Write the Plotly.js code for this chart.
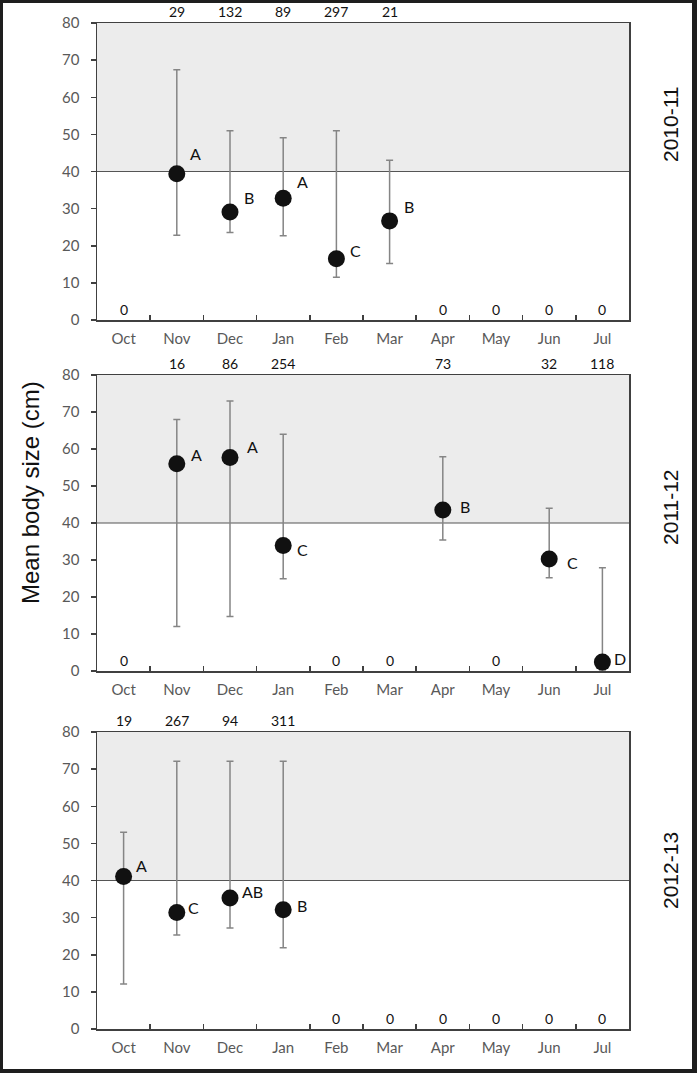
<!DOCTYPE html>
<html>
<head>
<meta charset="utf-8">
<script src="https://cdn.plot.ly/plotly-3.0.1.min.js"></script>
<style>
  html, body { margin: 0; padding: 0; background: #fff; }
  #wrap { position: relative; width: 697px; height: 1073px; }
  #chart { width: 697px; height: 1073px; }
  #frame { position: absolute; left: 0; top: 0; width: 697px; height: 1073px; box-sizing: border-box;
           border-style: solid; border-color: #1e1e1e; border-width: 3px 5px 4px 3px; pointer-events: none; }
</style>
</head>
<body>
<div id="wrap"><div id="chart"></div><div id="frame"></div></div>
<script>
// ---------- data ----------
const months = ['Oct', 'Nov', 'Dec', 'Jan', 'Feb', 'Mar', 'Apr', 'May', 'Jun', 'Jul'];
const seasons = ['2010-11', '2011-12', '2012-13'];
const yTitle = 'Mean body size (cm)';

// 2010-11
const mean1011  = [null, 39.4, 29.1, 32.8, 16.5, 26.7, null, null, null, null];
const upper1011 = [null, 67.4, 51.0, 49.1, 51.0, 43.0, null, null, null, null];
const lower1011 = [null, 22.8, 23.6, 22.7, 11.5, 15.2, null, null, null, null];
const n1011     = [0, 29, 132, 89, 297, 21, 0, 0, 0, 0];
const grp1011   = ['', 'A', 'B', 'A', 'C', 'B', '', '', '', ''];

// 2011-12
const mean1112  = [null, 56.0, 57.7, 33.9, null, null, 43.5, null, 30.3, 2.4];
const upper1112 = [null, 68.0, 73.0, 64.0, null, null, 57.9, null, 44.0, 27.9];
const lower1112 = [null, 12.0, 14.7, 24.9, null, null, 35.4, null, 25.2, 0];
const n1112     = [0, 16, 86, 254, 0, 0, 73, 0, 32, 118];
const grp1112   = ['', 'A', 'A', 'C', '', '', 'B', '', 'C', 'D'];

// 2012-13
const mean1213  = [41.1, 31.4, 35.3, 32.1, null, null, null, null, null, null];
const upper1213 = [53.0, 72.1, 72.1, 72.1, null, null, null, null, null, null];
const lower1213 = [12.1, 25.3, 27.2, 21.9, null, null, null, null, null, null];
const n1213     = [19, 267, 94, 311, 0, 0, 0, 0, 0, 0];
const grp1213   = ['A', 'C', 'AB', 'B', '', '', '', '', '', ''];

const sizeThreshold = 40;   // shaded band 40-80 cm
const yMax = 80;

// ---------- styling (not data) ----------
const letterDy = [
  [0, 20, 14, 17, 8, 14, 0, 0, 0, 0],
  [0, 9, 11, -4, 0, 0, 4, 0, -4, 4],
  [11, 5, 6, 4, 0, 0, 0, 0, 0, 0]
];
const letterDx = [
  [0, 19, 19, 19, 19, 19, 0, 0, 0, 0],
  [0, 20, 22, 19, 0, 0, 22, 0, 23, 18],
  [18, 17, 22, 19, 0, 0, 0, 0, 0, 0]
];
const seasonLabelCy = [124, 507, 871];

const panels = [
  {mean: mean1011, up: upper1011, lo: lower1011, n: n1011, g: grp1011},
  {mean: mean1112, up: upper1112, lo: lower1112, n: n1112, g: grp1112},
  {mean: mean1213, up: upper1213, lo: lower1213, n: n1213, g: grp1213}
];

// plot-area geometry (pixels)
const W = 697, H = 1073;
const L = 97, R = 629, T = 23, B = 1029;
const panelPx = [[23, 320], [375, 671], [732, 1029]];
const toPaperY = py => (B - py) / (B - T);
const toPaperX = px => (px - L) / (R - L);

const tickFont = {family: 'Lato, "Open Sans", sans-serif', size: 15, color: '#595959'};
const frameColor = '#404040';

const traces = [];
const shapes = [];
const annotations = [];
const layout = {
  width: W, height: H,
  margin: {l: L, r: W - R, t: T, b: H - B, pad: 0},
  paper_bgcolor: '#ffffff',
  plot_bgcolor: 'rgba(0,0,0,0)',
  showlegend: false,
  shapes: shapes,
  annotations: annotations
};

panels.forEach((p, i) => {
  const k = i === 0 ? '' : String(i + 1);
  const xa = 'x' + k, ya = 'y' + k;
  const dom = [toPaperY(panelPx[i][1]), toPaperY(panelPx[i][0])];

  layout['xaxis' + k] = {
    type: 'category', categoryorder: 'array', categoryarray: months,
    range: [-0.5, months.length - 0.5], anchor: ya, domain: [0, 1],
    showline: true, linecolor: frameColor, linewidth: 1.5, mirror: true,
    ticks: 'inside', tickson: 'boundaries', ticklen: 5, tickwidth: 1.5, tickcolor: frameColor,
    showgrid: false, zeroline: false, tickfont: tickFont, ticklabelstandoff: 4,
    fixedrange: true
  };
  layout['yaxis' + k] = {
    range: [0, yMax], domain: dom, anchor: xa,
    tickmode: 'array', tickvals: [0, 10, 20, 30, 40, 50, 60, 70, 80],
    showline: true, linecolor: frameColor, linewidth: 1.5, mirror: true,
    ticks: 'outside', ticklen: 5, tickwidth: 1.5, tickcolor: frameColor,
    showgrid: false, zeroline: false, tickfont: tickFont, ticklabelstandoff: 8,
    fixedrange: true
  };

  // shaded band and threshold line
  shapes.push({type: 'rect', xref: xa + ' domain', yref: ya, x0: 0, x1: 1, y0: sizeThreshold, y1: yMax,
               fillcolor: '#ececec', line: {width: 0}, layer: 'below'});
  shapes.push({type: 'line', xref: xa + ' domain', yref: ya, x0: 0, x1: 1, y0: sizeThreshold, y1: sizeThreshold,
               line: {color: '#555555', width: 1}, layer: 'below'});

  const xs = [], ys = [], eu = [], el = [];
  months.forEach((m, j) => {
    if (p.mean[j] !== null) {
      xs.push(m); ys.push(p.mean[j]);
      eu.push(p.up[j] - p.mean[j]);
      el.push(p.mean[j] - p.lo[j]);
    }
  });
  traces.push({
    type: 'scatter', mode: 'markers', x: xs, y: ys, xaxis: xa, yaxis: ya,
    marker: {size: 17, color: '#111111'},
    error_y: {type: 'data', symmetric: false, array: eu, arrayminus: el,
              color: '#858585', thickness: 1.5, width: 3.5},
    cliponaxis: false, hoverinfo: 'skip'
  });

  // group letters
  months.forEach((m, j) => {
    if (p.g[j]) {
      annotations.push({xref: xa, yref: ya, x: m, y: p.mean[j], text: p.g[j], showarrow: false,
        xanchor: 'center', yanchor: 'middle', xshift: letterDx[i][j], yshift: letterDy[i][j],
        font: {family: 'Lato, "Open Sans", sans-serif', size: 16, color: '#111111'}});
    }
  });

  // sample sizes
  months.forEach((m, j) => {
    const zero = p.n[j] === 0;
    annotations.push({xref: xa, yref: ya + ' domain', x: m, y: zero ? 0 : 1, text: String(p.n[j]),
      showarrow: false, xanchor: 'center', yanchor: 'bottom', yshift: zero ? 0 : 1,
      font: {family: 'Lato, "Open Sans", sans-serif', size: 14, color: '#111111'}});
  });

  // season label
  annotations.push({xref: 'paper', yref: 'paper', x: toPaperX(670), y: toPaperY(seasonLabelCy[i]),
    text: seasons[i], textangle: -90, showarrow: false, xanchor: 'center', yanchor: 'middle',
    font: {family: '"Liberation Sans", Arial, sans-serif', size: 21, color: '#111111'}});
});

annotations.push({xref: 'paper', yref: 'paper', x: toPaperX(31), y: toPaperY(493),
  text: yTitle, textangle: -90, showarrow: false, xanchor: 'center', yanchor: 'middle',
  font: {family: '"Liberation Sans", Arial, sans-serif', size: 24, color: '#111111'}});

Plotly.newPlot('chart', traces, layout, {staticPlot: true, displayModeBar: false});
</script>
</body>
</html>
